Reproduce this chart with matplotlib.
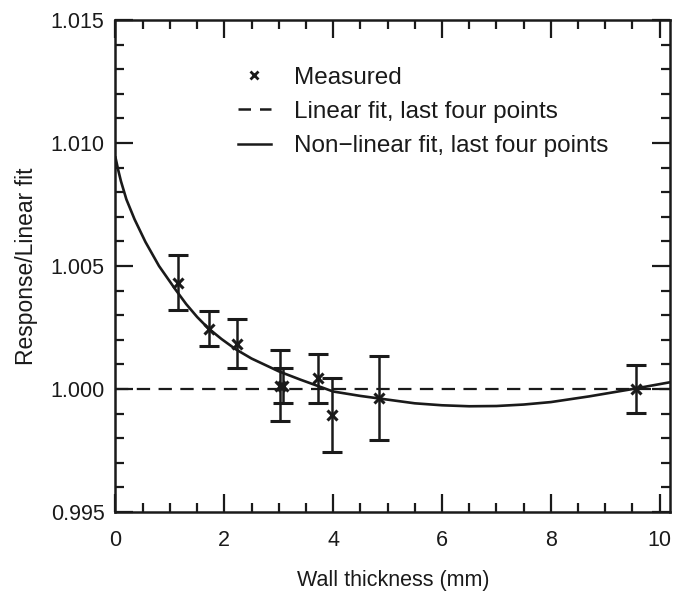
import matplotlib
matplotlib.use("Agg")
import matplotlib.pyplot as plt
from matplotlib.lines import Line2D
from matplotlib.ticker import MultipleLocator, FormatStrFormatter

plt.rcParams['font.family'] = ['Liberation Sans', 'DejaVu Sans']

# measured points (wall thickness in mm, response / linear fit, error)
meas_x = [1.15, 1.71, 2.23, 3.02, 3.08, 3.73, 3.97, 4.84, 9.57]
meas_y = [1.00433, 1.00246, 1.00185, 1.00014, 1.00014, 1.00043, 0.99896, 0.99964, 1.00000]
meas_err = [0.00110, 0.00070, 0.00100, 0.00143, 0.00071, 0.00100, 0.00150, 0.00170, 0.00098]

# linear fit through last four points (flat at 1)
lin_x = [0.0, 10.2]
lin_y = [1.0, 1.0]

# non-linear fit
fit_x = [0.0, 0.05, 0.1, 0.2, 0.35, 0.55, 0.8, 1.1, 1.3, 1.5, 1.7, 1.95, 2.2, 2.5,
         3.0, 3.4, 4.0, 4.5, 5.0, 5.5, 6.0, 6.5, 7.0, 7.5, 8.0, 8.7, 9.5, 10.2]
fit_y = [1.00941, 1.00890, 1.00845, 1.00771, 1.00690, 1.00598, 1.00500, 1.00405,
         1.00345, 1.00293, 1.00248, 1.00203, 1.00163, 1.00124, 1.00072, 1.00038,
         0.99990, 0.99972, 0.99957, 0.99942, 0.99934, 0.99930, 0.99931, 0.99937,
         0.99947, 0.99970, 1.00000, 1.00028]

ink = '#1a1a1a'

fig = plt.figure(figsize=(6.77, 6.01), dpi=100)
ax = fig.add_axes([0.1706, 0.148, 0.8191, 0.8187])

ax.plot(lin_x, lin_y, color=ink, lw=1.6, dashes=(6.0, 3.8))
ax.plot(fit_x, fit_y, color=ink, lw=1.9)
ax.errorbar(meas_x, meas_y, yerr=meas_err, fmt='x', color=ink, ms=7.5, mew=2.2,
            elinewidth=1.8, capsize=7, capthick=1.8)

ax.set_xlim(0, 10.19)
ax.set_ylim(0.995, 1.015)
ax.xaxis.set_major_locator(MultipleLocator(2))
ax.xaxis.set_minor_locator(MultipleLocator(0.5))
ax.yaxis.set_major_locator(MultipleLocator(0.005))
ax.yaxis.set_minor_locator(MultipleLocator(0.001))
ax.yaxis.set_major_formatter(FormatStrFormatter('%.3f'))

ax.tick_params(which='both', direction='in', top=True, right=True, width=1.6,
               colors=ink, labelsize=15.5)
ax.tick_params(which='major', length=13)
ax.tick_params(axis='y', which='major', pad=8)
ax.tick_params(axis='x', which='major', pad=13)
ax.tick_params(which='minor', length=6.5)
for s in ax.spines.values():
    s.set_linewidth(1.8)
    s.set_color(ink)

ax.set_xlabel('Wall thickness (mm)', fontsize=15.5, color=ink)
ax.set_ylabel('Response/Linear fit', fontsize=16.5, color=ink)
ax.xaxis.set_label_coords(0.5, -0.118)
ax.yaxis.set_label_coords(-0.14, 0.5)

handles = [
    Line2D([], [], ls='none', marker='x', ms=6, mew=2.0, color=ink),
    Line2D([], [], color=ink, lw=1.8, dashes=(5.0, 3.6)),
    Line2D([], [], color=ink, lw=1.8),
]
labels = ['Measured', 'Linear fit, last four points', 'Non\u2212linear fit, last four points']
ax.legend(handles, labels, loc='upper left', bbox_to_anchor=(0.221, 0.905),
          frameon=False, fontsize=17.5, handlelength=1.35, handletextpad=0.95,
          labelspacing=0.5, borderpad=0, borderaxespad=0, labelcolor=ink)

fig.savefig('out.png', dpi=100)
